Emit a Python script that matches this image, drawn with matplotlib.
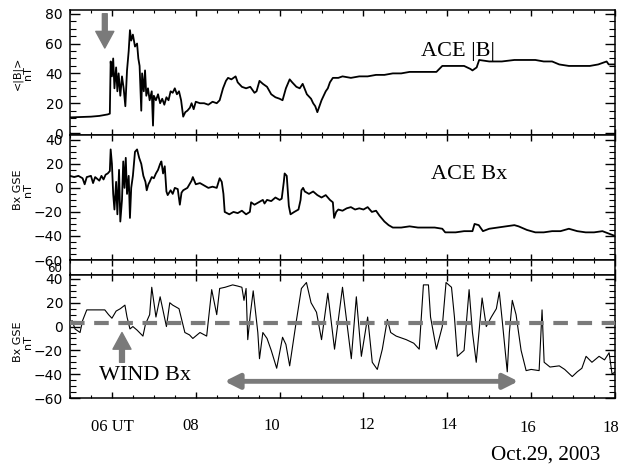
import matplotlib
matplotlib.use("Agg")
import matplotlib.pyplot as plt
from matplotlib.ticker import MultipleLocator

# ---------------- data (hours UT, nT) ----------------
ace_b_t = [5.0, 5.3, 5.5, 5.7, 5.9, 5.95, 5.97, 6.0, 6.03, 6.06, 6.1, 6.13, 6.16, 6.2, 6.24, 6.28,
           6.32, 6.36, 6.4, 6.43, 6.46, 6.5, 6.55, 6.6, 6.63, 6.66, 6.7, 6.72, 6.76, 6.79, 6.82,
           6.86, 6.9, 6.95, 6.98, 7.0, 7.05, 7.1, 7.15, 7.2, 7.25, 7.3, 7.35, 7.4, 7.45, 7.5, 7.55,
           7.6, 7.65, 7.7, 7.75, 7.8, 7.86, 7.9, 7.95, 8.0, 8.1, 8.2, 8.3, 8.4, 8.5, 8.57, 8.65,
           8.72, 8.77, 8.85, 8.95, 9.0, 9.1, 9.2, 9.3, 9.4, 9.45, 9.52, 9.6, 9.7, 9.8, 9.9, 10.0,
           10.07, 10.15, 10.24, 10.3, 10.4, 10.48, 10.55, 10.65, 10.75, 10.8, 10.85, 10.9, 10.95,
           11.0, 11.05, 11.1, 11.15, 11.2, 11.27, 11.4, 11.5, 11.7, 11.9, 12.1, 12.3, 12.5, 12.7,
           12.9, 13.1, 13.3, 13.5, 13.74, 13.88, 14.0, 14.2, 14.4, 14.55, 14.6, 14.7, 14.76, 15.0,
           15.3, 15.6, 15.9, 16.1, 16.3, 16.5, 16.67, 16.9, 17.1, 17.4, 17.6, 17.8, 17.85, 18.0]
ace_b_v = [10.5, 10.8, 11, 11.5, 12.5, 13, 48, 38, 50, 30, 44, 28, 40, 25, 38, 30,
           18, 42, 55, 69, 62, 66, 58, 60, 50, 45, 15, 40, 28, 42, 25,
           30, 22, 28, 5, 25, 22, 26, 20, 23, 19, 24, 22, 28, 27, 30, 26,
           28, 22, 11, 14, 15, 17, 20, 16, 21, 20, 20, 19, 21, 20, 22, 30,
           35, 37, 36, 38, 34, 31, 30, 31, 27, 28, 35, 33, 31, 26, 24, 23,
           22, 30, 36, 34, 31, 30, 33, 26, 23, 20, 18, 14, 18,
           22, 25, 28, 30, 34, 37, 37, 38, 37, 38, 38, 39, 39, 40,
           40, 41, 41, 41, 41, 45, 45, 45, 45, 43, 42, 44, 49, 48,
           48, 49, 49, 49, 48, 48, 46, 45, 45, 45, 46, 48, 46, 46]

ace_bx_t = [5.0, 5.1, 5.2, 5.3, 5.35, 5.4, 5.5, 5.55, 5.6, 5.7, 5.75, 5.8, 5.85, 5.9, 5.95, 5.97,
            6.0, 6.03, 6.06, 6.1, 6.13, 6.17, 6.2, 6.24, 6.27, 6.3, 6.33, 6.36, 6.4, 6.43, 6.46,
            6.5, 6.55, 6.6, 6.65, 6.7, 6.75, 6.8, 6.83, 6.87, 6.9, 6.95, 7.0, 7.05, 7.1, 7.15,
            7.18, 7.22, 7.26, 7.3, 7.33, 7.4, 7.45, 7.5, 7.57, 7.62, 7.66, 7.7, 7.8, 7.85, 7.9,
            7.93, 8.0, 8.1, 8.2, 8.3, 8.4, 8.5, 8.57, 8.62, 8.66, 8.69, 8.8, 8.9, 9.0, 9.1, 9.2,
            9.29, 9.32, 9.4, 9.5, 9.6, 9.64, 9.7, 9.8, 9.9, 10.0, 10.05, 10.1, 10.12, 10.17, 10.22,
            10.26, 10.35, 10.45, 10.5, 10.52, 10.56, 10.6, 10.7, 10.8, 10.9, 11.0, 11.1, 11.2,
            11.27, 11.3, 11.35, 11.4, 11.5, 11.6, 11.7, 11.8, 11.9, 12.0, 12.1, 12.2, 12.3, 12.38,
            12.5, 12.6, 12.7, 12.9, 13.1, 13.3, 13.5, 13.7, 13.88, 13.95, 14.2, 14.4, 14.6, 14.65,
            14.75, 14.85, 15.0, 15.2, 15.4, 15.6, 15.7, 15.9, 16.1, 16.3, 16.5, 16.7, 16.9, 17.1,
            17.3, 17.5, 17.7, 17.85, 18.0]
ace_bx_v = [10, 9, 10, 8, 3, 9, 10, 4, 9, 6, 10, 7, 11, 12, 14, 32,
            20, -5, -18, 5, -22, 15, -28, -10, 22, 0, 25, -5, 10, -25, 0,
            10, 30, 32, 25, 20, 10, 5, -2, 3, 5, 9, 8, 12, 15, 20,
            22, 12, 18, -3, -6, -2, -5, 0, -1, -14, -4, -2, 0, 3, 6,
            9, 3, 4, 2, 0, 1, 0, 8, 5, -5, -20, -22, -20, -21, -19, -22,
            -20, -12, -14, -12, -10, -13, -10, -11, -8, -10, -9, 5, 12, 10, -15,
            -22, -20, -18, -10, -2, 0, -3, -5, -3, -6, -8, -6, -10,
            -12, -25, -20, -18, -19, -17, -16, -18, -17, -18, -16, -20, -19, -23,
            -28, -31, -33, -33, -32, -33, -33, -33, -34, -37, -37, -36, -36, -30,
            -31, -36, -34, -33, -32, -31, -32, -35, -37, -37, -36, -36, -34, -36,
            -37, -37, -36, -38, -40]

wind_bx_t = [5.0, 5.05, 5.12, 5.24, 5.3, 5.4, 5.6, 5.83, 5.92, 6.0, 6.1, 6.2, 6.31, 6.36, 6.43,
             6.5, 6.6, 6.74, 6.8, 6.9, 6.95, 7.05, 7.15, 7.3, 7.38, 7.45, 7.6, 7.74, 7.85, 7.93,
             8.1, 8.26, 8.38, 8.5, 8.57, 8.7, 8.88, 9.0, 9.1, 9.15, 9.2, 9.24, 9.3, 9.37, 9.48,
             9.52, 9.6, 9.7, 9.8, 9.93, 10.07, 10.15, 10.24, 10.4, 10.52, 10.64, 10.75, 10.88,
             11.0, 11.15, 11.31, 11.5, 11.71, 11.83, 11.95, 12.1, 12.21, 12.33, 12.45, 12.57,
             12.65, 12.78, 13.02, 13.2, 13.33, 13.43, 13.55, 13.6, 13.74, 13.88, 13.97, 14.1,
             14.17, 14.24, 14.4, 14.52, 14.6, 14.69, 14.83, 14.93, 15.05, 15.17, 15.24, 15.31,
             15.43, 15.48, 15.55, 15.64, 15.76, 15.88, 16.0, 16.19, 16.26, 16.31, 16.45, 16.67,
             16.8, 16.98, 17.1, 17.21, 17.31, 17.45, 17.62, 17.75, 17.86, 17.93, 18.0]
wind_bx_v = [3, 5, -2, -5, 5, 14, 14, 14, 10, 7, 13, 15, 18, 8, -2,
             0, -3, -8, 2, 10, 33, 8, 25, 0, 20, 18, 15, -5, -7, -10,
             -5, -8, 31, 10, 32, 33, 35, 34, 33, 22, 32, -11, 10, 30, -5,
             -27, -5, -10, -20, -35, -9, -15, -33, 5, 32, 37, 20, 12,
             -11, 28, -19, 33, -27, 25, -25, 8, -30, -36, -19, 6,
             -5, -8, -11, -14, -19, 35, 35, 8, -19, 0, 37, 33,
             8, -25, -20, 31, -5, -30, 24, 0, 8, 15, 29, 5,
             -38, -5, 22, 10, -20, -37, -36, -37, 14, -30, -34, -33,
             -36, -42, -38, -35, -25, -30, -25, -28, -22, -40, -38]

hour_labels = ["06 UT", "08", "10", "12", "14", "16", "18"]

# ---------------- figure ----------------
W, H = 619, 467
fig = plt.figure(figsize=(W / 100, H / 100), dpi=100)
fig.patch.set_facecolor("white")

def rect(x0, y0, x1, y1):
    return [x0 / W, 1 - y1 / H, (x1 - x0) / W, (y1 - y0) / H]

ax1 = fig.add_axes(rect(70, 10, 615, 135))
ax2 = fig.add_axes(rect(70, 135, 615, 260))
axs = fig.add_axes(rect(70, 260, 615, 275))
ax3 = fig.add_axes(rect(70, 275, 615, 398))

GRAY = "#7a7a7a"

for ax in (ax1, ax2, axs, ax3):
    ax.set_xlim(5, 18)
    ax.xaxis.set_major_locator(MultipleLocator(2))
    ax.xaxis.set_minor_locator(MultipleLocator(0.5))
    ax.tick_params(axis="x", which="major", direction="in", length=4, width=1,
                   top=True, bottom=True, labelbottom=False)
    ax.tick_params(axis="x", which="minor", direction="in", length=2.2, width=0.8,
                   top=True, bottom=True)
    ax.tick_params(axis="y", which="major", direction="in", length=7, width=1,
                   left=True, right=True, labelsize=10, pad=5)
    ax.tick_params(axis="y", which="minor", direction="in", length=4, width=0.8,
                   left=True, right=True)
    for sp in ax.spines.values():
        sp.set_linewidth(1.1)

# top panel
ax1.plot(ace_b_t, ace_b_v, color="black", lw=1.3)
ax1.set_ylim(-1.3, 82.5)
ax1.set_yticks([0, 20, 40, 60, 80])
ax1.yaxis.set_minor_locator(MultipleLocator(5))
ax1.text(14.26, 55, "ACE |B|", family="Liberation Serif", fontsize=16,
         ha="center", va="center")
ax1.annotate("", xy=(5.83, 57), xytext=(5.83, 80),
             arrowprops=dict(facecolor=GRAY, edgecolor=GRAY, width=3.5,
                             headwidth=13, headlength=12))

# middle panel
ax2.plot(ace_bx_t, ace_bx_v, color="black", lw=1.3)
ax2.set_ylim(-60, 44)
ax2.set_yticks([-60, -40, -20, 0, 20, 40])
ax2.yaxis.set_minor_locator(MultipleLocator(5))
ax2.text(14.52, 11, "ACE Bx", family="Liberation Serif", fontsize=16,
         ha="center", va="center")

# strip between middle and bottom panels
axs.set_ylim(0, 1)
axs.set_yticks([])
axs.tick_params(axis="y", which="both", left=False, right=False)

# bottom panel
ax3.plot(wind_bx_t, wind_bx_v, color="black", lw=0.8)
ax3.set_ylim(-59.5, 43.3)
ax3.set_yticks([-60, -40, -20, 0, 20, 40])
ax3.yaxis.set_minor_locator(MultipleLocator(5))
ax3.axhline(3, color=GRAY, lw=3, dashes=(3.5, 2.3), zorder=3)
ax3.text(6.79, -41, "WIND Bx", family="Liberation Serif", fontsize=16,
         ha="center", va="center")
ax3.annotate("", xy=(6.24, -5), xytext=(6.24, -30),
             arrowprops=dict(facecolor=GRAY, edgecolor=GRAY, width=3.5,
                             headwidth=13, headlength=12))
ax3.annotate("", xy=(8.62, -46), xytext=(15.76, -46),
             arrowprops=dict(arrowstyle="<|-|>", color=GRAY, lw=3.5,
                             mutation_scale=22))

for ax in (ax1, ax2, ax3):
    for lab in ax.get_yticklabels():
        lab.set_family("DejaVu Sans")
        lab.set_fontsize(10)

# strip label
fig.text(62 / W, 1 - 268 / H, "60", family="DejaVu Sans", fontsize=8.5,
         ha="right", va="center")

# y-axis labels
for yc, txt in ((73, "<|B|>\nnT"), (190, "Bx GSE\nnT"), (342, "Bx GSE\nnT")):
    fig.text(23 / W, 1 - yc / H, txt, family="DejaVu Sans", fontsize=8,
             rotation=90, ha="center", va="center", linespacing=1.0)

# x labels (placed as in the original figure)
label_x = [112, 191, 272, 367, 449, 528, 611]
label_y = [427, 426, 426, 425, 425, 428, 428]
for x, y, s in zip(label_x, label_y, hour_labels):
    fig.text(x / W, 1 - y / H, s, family="Liberation Serif", fontsize=12,
             ha="center", va="center")

fig.text(546 / W, 1 - 455 / H, "Oct.29, 2003", family="Liberation Serif",
         fontsize=15.2, ha="center", va="center")

fig.savefig("out.png", dpi=100)
